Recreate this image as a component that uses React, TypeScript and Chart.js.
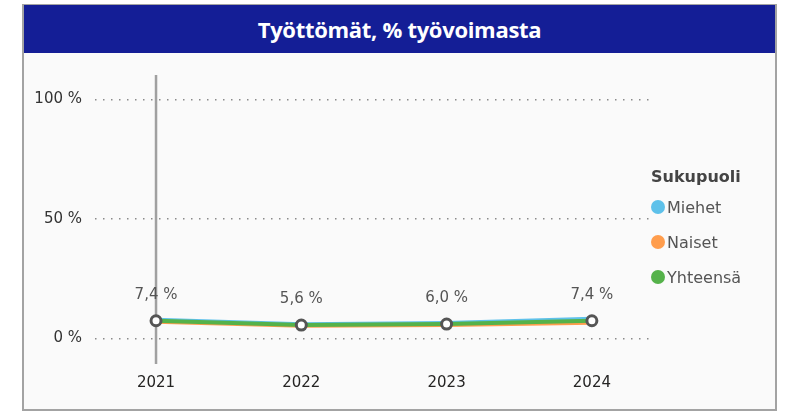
import React, { useEffect, useRef } from 'react';
import { Chart, registerables } from 'chart.js';

Chart.register(...registerables);

const chartTitle = 'Työttömät, % työvoimasta';
const legendTitle = 'Sukupuoli';
const years = [2021, 2022, 2023, 2024];
const miehet = [7.8, 5.9, 6.5, 8.2];
const naiset = [7.0, 5.3, 5.6, 6.6];
const yhteensa = [7.4, 5.6, 6.0, 7.4];
const seriesNames = ['Miehet', 'Naiset', 'Yhteensä'];
const seriesColors = ['#5EC1EA', '#FF9D4D', '#55B24A'];
const yTicks = [0, 50, 100];

const FONT = '"DejaVu Sans", "Open Sans", sans-serif';

const fmt = (v: number) => v.toFixed(1).replace('.', ',') + ' %';

const crosshairPlugin = {
  id: 'crosshair',
  beforeDatasetsDraw(chart: any) {
    const { ctx, chartArea, scales } = chart;
    const x = scales.x.getPixelForValue(years[0]);
    ctx.save();
    ctx.strokeStyle = '#a0a0a0';
    ctx.lineWidth = 2.5;
    ctx.beginPath();
    ctx.moveTo(x, chartArea.top);
    ctx.lineTo(x, chartArea.bottom);
    ctx.stroke();
    ctx.restore();
  },
};

const labelPlugin = {
  id: 'valueLabels',
  afterDatasetsDraw(chart: any) {
    const { ctx } = chart;
    const idx = 2;
    const meta = chart.getDatasetMeta(idx);
    const data = chart.data.datasets[idx].data as any[];
    ctx.save();
    ctx.font = `15px ${FONT}`;
    ctx.fillStyle = '#555555';
    ctx.textAlign = 'center';
    ctx.textBaseline = 'middle';
    meta.data.forEach((pt: any, i: number) => {
      ctx.fillText(fmt(data[i].y), pt.x, pt.y - 26);
    });
    ctx.restore();
  },
};

export default function App() {
  const ref = useRef<HTMLCanvasElement | null>(null);

  useEffect(() => {
    if (!ref.current) return;
    const series = [miehet, naiset, yhteensa];
    const orders = [1, 2, 0];
    const chart = new Chart(ref.current, {
      type: 'line',
      data: {
        datasets: series.map((s, si) => ({
          label: seriesNames[si],
          data: years.map((y, i) => ({ x: y, y: s[i] })),
          borderColor: seriesColors[si],
          backgroundColor: seriesColors[si],
          borderWidth: 4,
          order: orders[si],
          pointRadius: si === 2 ? 5 : 0,
          pointBackgroundColor: '#ffffff',
          pointBorderColor: '#555555',
          pointBorderWidth: 3,
          tension: 0,
        })),
      },
      options: {
        animation: false,
        responsive: false,
        devicePixelRatio: 1,
        layout: { padding: { top: 17, right: 125, bottom: 0, left: 0 } },
        plugins: {
          legend: { display: false },
          tooltip: { enabled: false },
        },
        scales: {
          x: {
            type: 'linear',
            min: 2020.58,
            max: 2024.4,
            afterBuildTicks: (axis: any) => {
              axis.ticks = years.map((v) => ({ value: v }));
            },
            afterFit: (axis: any) => {
              axis.height = 46;
            },
            grid: { display: false, drawTicks: false },
            border: { display: false },
            ticks: {
              callback: (v: any) => String(v),
              font: { family: FONT, size: 15 },
              color: '#252423',
              padding: 10,
              maxRotation: 0,
            },
          },
          y: {
            type: 'linear',
            min: -10.7,
            max: 110.3,
            afterBuildTicks: (axis: any) => {
              axis.ticks = yTicks.map((v) => ({ value: v }));
            },
            afterFit: (axis: any) => {
              axis.width = 70;
            },
            grid: { color: '#8a8a8a', lineWidth: 1.5, drawTicks: false },
            border: { display: false, dash: [1.5, 6.5] },
            ticks: {
              callback: (v: any) => v + ' %',
              font: { family: FONT, size: 15 },
              color: '#333333',
              padding: 13,
            },
          },
        },
      },
      plugins: [crosshairPlugin, labelPlugin],
    });
    return () => chart.destroy();
  }, []);

  return (
    <div
      style={{
        position: 'absolute',
        left: 0,
        top: 0,
        width: 787,
        height: 411,
        background: '#ffffff',
        overflow: 'hidden',
        fontFamily: FONT,
      }}
    >
      <div
        style={{
          position: 'absolute',
          left: 22,
          top: 4,
          width: 755,
          height: 407,
          boxSizing: 'border-box',
          border: '2px solid #a3a3a3',
          background: '#fafafa',
        }}
      />
      <div
        style={{
          position: 'absolute',
          left: 24,
          top: 5,
          width: 751,
          height: 48,
          background: '#141E96',
          color: '#ffffff',
          fontWeight: 'bold',
          fontSize: 22,
          lineHeight: '48px',
          textAlign: 'center',
          fontFamily: '"Open Sans", sans-serif',
          letterSpacing: -0.3,
        }}
      >
        {chartTitle}
      </div>
      <canvas
        ref={ref}
        width={750}
        height={357}
        style={{ position: 'absolute', left: 25, top: 53, width: 750, height: 357 }}
      />
      <div style={{ position: 'absolute', left: 651, top: 166, color: '#444', fontSize: 16 }}>
        <div style={{ fontWeight: 'bold', height: 22, lineHeight: '22px' }}>{legendTitle}</div>
        {seriesNames.map((n, i) => (
          <div
            key={n}
            style={{
              display: 'flex',
              alignItems: 'center',
              marginTop: i === 0 ? 8 : 13,
              height: 22,
              color: '#555',
            }}
          >
            <span
              style={{
                display: 'inline-block',
                width: 14,
                height: 14,
                borderRadius: '50%',
                background: seriesColors[i],
                marginRight: 2,
              }}
            />
            <span>{n}</span>
          </div>
        ))}
      </div>
    </div>
  );
}
